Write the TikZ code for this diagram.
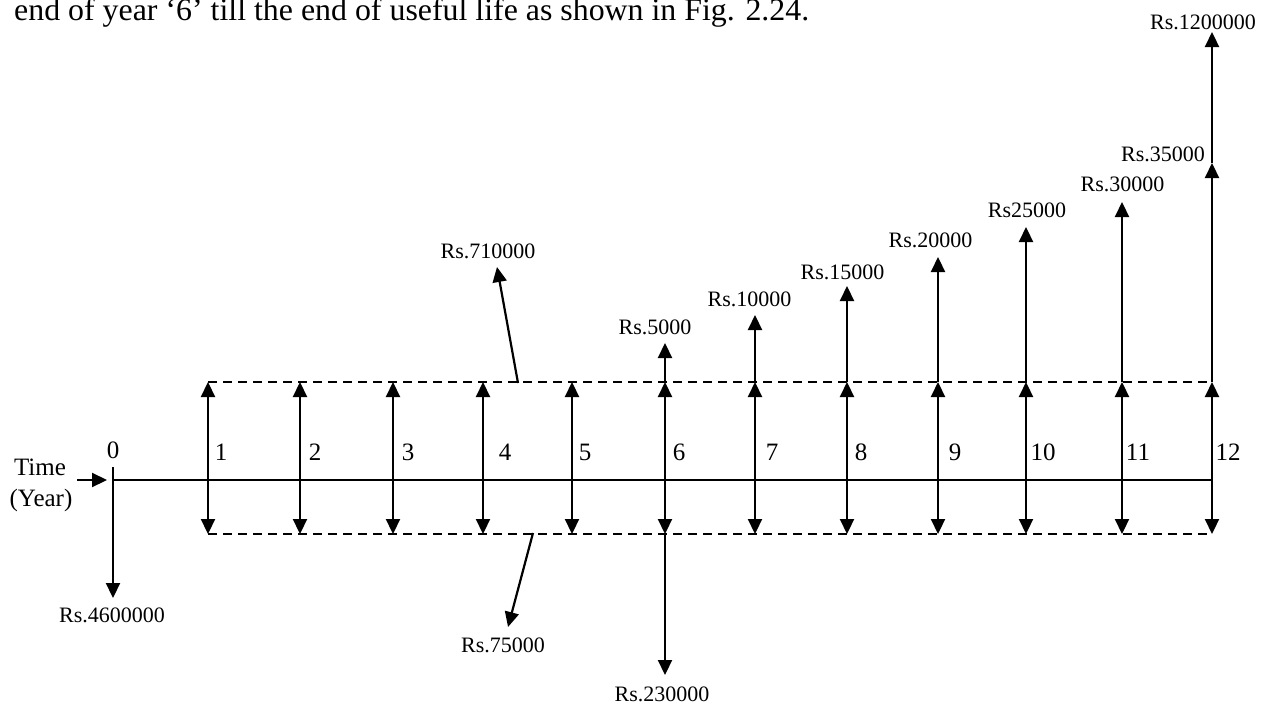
\documentclass[tikz,border=0pt]{standalone}
\usepackage{fontspec}
\setmainfont{Liberation Serif}
\usetikzlibrary{arrows.meta}
\begin{document}
\begin{tikzpicture}[x=1pt,y=-1pt,
  tipA/.tip={Triangle[length=15pt,width=14pt]},
  arr/.style={line width=2.2pt,-tipA},
  darr/.style={line width=2.2pt,tipA-tipA},
  dashline/.style={line width=2pt,dash pattern=on 9pt off 6pt},
  axis/.style={line width=1.3pt},
  money/.style={font=\fontsize{22}{22}\selectfont, inner sep=0pt},
  yr/.style={font=\fontsize{25}{25}\selectfont, inner sep=0pt, anchor=base},
]
\useasboundingbox (0,0) rectangle (1272,707);

% intro text (cut off at top, as in the source)
\node[anchor=base west, inner sep=0pt, font=\fontsize{31.5}{31.5}\selectfont, xscale=1.012] (intro) at (14,20)
  {end of year ‘6’ till the end of useful life as shown in Fig. 2.24.};

% time axis
\coordinate (z0) at (113,480);
\coordinate (z12) at (1212,480);
\draw[axis] (z0) -- (z12);

% dashed bands
\coordinate (dt1) at (208,382); \coordinate (dt2) at (1212,382);
\coordinate (db1) at (208,534); \coordinate (db2) at (1212,534);
\draw[dashline] (dt1) -- (dt2);
\draw[dashline] (db1) -- (db2);

% time label
\node[yr] (time) at (40,475) {Time};
\node[yr] (year) at (41,506) {(Year)};
\coordinate (ts) at (77,480); \coordinate (te) at (107,480);
\draw[arr] (ts) -- (te);

% year 0
\node[yr] (y0) at (113,458) {0};
\coordinate (p0a) at (113,467); \coordinate (p0b) at (113,598);
\draw[arr] (p0a) -- (p0b);
\node[money] (c0) at (112,615) {Rs.4600000};

% years 1..12
\foreach \i/\x/\lx in {1/208/221,2/300/315,3/393/408,4/483/505,5/572/585,6/665/679,7/755/772,8/847/861,9/938/955,10/1026/1043,11/1122/1138,12/1212/1228}{
  \coordinate (t\i) at (\x,382);
  \coordinate (b\i) at (\x,534);
  \draw[darr] (t\i) -- (b\i);
  \node[yr] (y\i) at (\lx,460) {\i};
}

% rising amounts
\foreach \i/\x/\ty/\lx/\ly/\txt in {6/665/343/655/327/Rs.5000,7/755/315/749.5/299.5/Rs.10000,8/847/286/842.5/272.5/Rs.15000,9/938/257/930.5/240.5/Rs.20000,10/1026/227/1027/210.5/Rs25000,11/1122/202/1122.5/184.5/Rs.30000,12/1212/163/1163/154.5/Rs.35000}{
  \coordinate (u\i) at (\x,\ty);
  \draw[arr] (t\i) -- (u\i);
  \node[money] (m\i) at (\lx,\ly) {\txt};
}

% salvage
\coordinate (s12) at (1212,32);
\draw[arr] (u12) -- (s12);
\node[money] (ms) at (1203,22) {Rs.1200000};

% annual receipts / costs
\coordinate (r1) at (518,383); \coordinate (r2) at (497,267);
\draw[arr] (r1) -- (r2);
\node[money] (mr) at (488,251) {Rs.710000};
\coordinate (k1) at (533,533); \coordinate (k2) at (508,627);
\draw[arr] (k1) -- (k2);
\node[money] (mk) at (503,645) {Rs.75000};

% overhaul at year 6
\coordinate (d6) at (665,675);
\draw[arr] (b6) -- (d6);
\node[money] (md) at (662,694.5) {Rs.230000};
\end{tikzpicture}
\end{document}
